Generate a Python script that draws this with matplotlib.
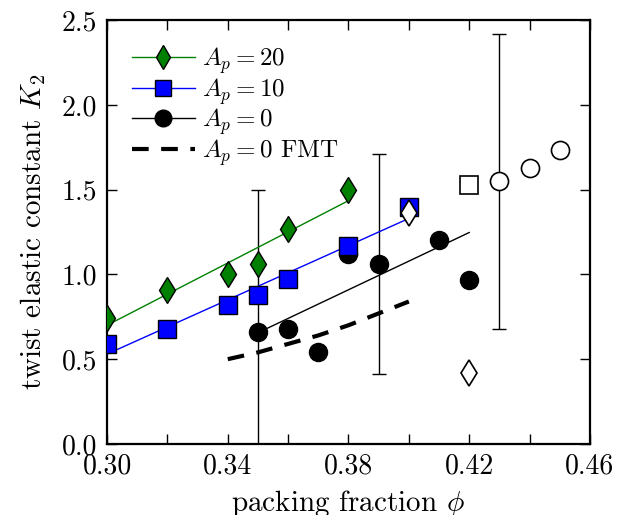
import matplotlib
matplotlib.use('Agg')
import matplotlib.pyplot as plt
from matplotlib.lines import Line2D

plt.rcParams['font.family'] = 'serif'
plt.rcParams['font.serif'] = ['cmr10']
plt.rcParams['mathtext.fontset'] = 'cm'
plt.rcParams['axes.formatter.use_mathtext'] = True

# simulation data
phi_20 = [0.30, 0.32, 0.34, 0.35, 0.36, 0.38]
k2_20 = [0.74, 0.91, 1.00, 1.06, 1.27, 1.50]
fit_20_x = [0.30, 0.38]
fit_20_y = [0.70, 1.435]

phi_10 = [0.30, 0.32, 0.34, 0.35, 0.36, 0.38, 0.40]
k2_10 = [0.59, 0.68, 0.82, 0.88, 0.97, 1.17, 1.40]
fit_10_x = [0.30, 0.40]
fit_10_y = [0.53, 1.33]

phi_0 = [0.35, 0.36, 0.37, 0.38, 0.39, 0.41, 0.42]
k2_0 = [0.66, 0.68, 0.545, 1.12, 1.06, 1.20, 0.965]
fit_0_x = [0.35, 0.42]
fit_0_y = [0.656, 1.247]

# FMT curve
phi_fmt = [0.34, 0.35, 0.36, 0.37, 0.38, 0.39, 0.40]
k2_fmt = [0.50, 0.54, 0.59, 0.64, 0.70, 0.77, 0.84]

# error bars
err_x = [0.35, 0.39, 0.43]
err_y = [0.66, 1.06, 1.55]
err_e = [0.84, 0.65, 0.87]

# open symbols
open_sq_x, open_sq_y = [0.42], [1.53]
open_ci_x, open_ci_y = [0.43, 0.44, 0.45], [1.55, 1.625, 1.735]
open_di_x, open_di_y = [0.40, 0.42], [1.36, 0.42]

fig = plt.figure(figsize=(6.19, 5.15), dpi=100)
ax = fig.add_axes([0.173, 0.138, 0.78, 0.823])

ax.errorbar(err_x, err_y, yerr=err_e, fmt='none', ecolor='black',
            elinewidth=1, capsize=5, capthick=1, zorder=1)
ax.plot(phi_fmt, k2_fmt, color='black', lw=3, dashes=(4, 3), zorder=2)

ax.plot(fit_0_x, fit_0_y, color='black', lw=1, zorder=3)
ax.plot(phi_0, k2_0, 'o', color='black', ms=13, zorder=3)
ax.plot(fit_10_x, fit_10_y, color='blue', lw=1, zorder=4)
ax.plot(phi_10, k2_10, 's', color='blue', mec='black', mew=1, ms=13, zorder=4)
ax.plot(fit_20_x, fit_20_y, color='green', lw=1, zorder=5)
ax.plot(phi_20, k2_20, 'd', color='green', mec='black', mew=1, ms=13, zorder=5)

ax.plot(open_sq_x, open_sq_y, 's', mfc='white', mec='black', mew=1.2, ms=13, zorder=6)
ax.plot(open_ci_x, open_ci_y, 'o', mfc='white', mec='black', mew=1.2, ms=13, zorder=6)
ax.plot(open_di_x, open_di_y, 'd', mfc='white', mec='black', mew=1.2, ms=13, zorder=6)

handles = [
    Line2D([], [], color='green', lw=1, marker='d', ms=12, mfc='green', mec='black'),
    Line2D([], [], color='blue', lw=1, marker='s', ms=12, mfc='blue', mec='black'),
    Line2D([], [], color='black', lw=1, marker='o', ms=12),
    Line2D([], [], color='black', lw=3, dashes=(4, 3)),
]
labels = [r'$A_p=20$', r'$A_p=10$', r'$A_p=0$', r'$A_p=0$ FMT']
ax.legend(handles, labels, loc='upper left', frameon=False, fontsize=18,
          handlelength=2.5, numpoints=1, labelspacing=0.0,
          borderaxespad=0.6, handletextpad=0.3)

ax.set_xlim(0.30, 0.46)
ax.set_ylim(0.0, 2.5)
xt = [0.30, 0.32, 0.34, 0.36, 0.38, 0.40, 0.42, 0.44, 0.46]
ax.set_xticks(xt)
ax.set_xticklabels(['0.30', '', '0.34', '', '0.38', '', '0.42', '', '0.46'])
ax.set_yticks([0.0, 0.5, 1.0, 1.5, 2.0, 2.5])
ax.set_yticklabels(['0.0', '0.5', '1.0', '1.5', '2.0', '2.5'])
ax.tick_params(direction='in', top=True, right=True, length=7, width=1,
               labelsize=20, pad=7)
for s in ax.spines.values():
    s.set_linewidth(1.6)

ax.set_xlabel(r'packing fraction $\phi$', fontsize=21, labelpad=6)
ax.set_ylabel(r'twist elastic constant $K_2$', fontsize=21, labelpad=10)

plt.savefig('out.png', dpi=100)
